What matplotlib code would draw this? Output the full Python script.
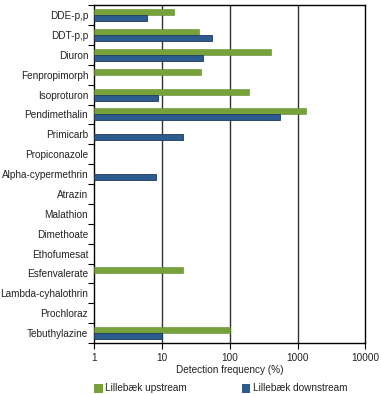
import matplotlib
matplotlib.use("Agg")
import matplotlib.pyplot as plt
from matplotlib.patches import Rectangle
import numpy as np

plt.rcParams['font.family'] = ['Liberation Sans', 'DejaVu Sans']

categories = ["DDE-p,p", "DDT-p,p", "Diuron", "Fenpropimorph", "Isoproturon",
              "Pendimethalin", "Primicarb", "Propiconazole", "Alpha-cypermethrin",
              "Atrazin", "Malathion", "Dimethoate", "Ethofumesat", "Esfenvalerate",
              "Lambda-cyhalothrin", "Prochloraz", "Tebuthylazine"]
upstream = [15, 35, 400, 38, 190, 1330, 0, 0, 0, 0, 0, 0, 0, 20, 0, 0, 100]
downstream = [6, 55, 40, 0, 8.6, 550, 20, 0, 8, 0, 0, 0, 0, 0, 0, 0, 10]
xticks = [1, 10, 100, 1000, 10000]
xticklabels = ["1", "10", "100", "1000", "10000"]
series_labels = ["Lillebæk upstream", "Lillebæk downstream"]
green = "#77a23b"
blue = "#2e5b8e"

W, H = 381, 394
fig = plt.figure(figsize=(W / 100, H / 100), dpi=100)
ax = fig.add_axes([0.248, 0.1294, 0.711, 0.8576])

n = len(categories)
y = np.arange(n)
h = 0.3
up = np.array(upstream, dtype=float)
dn = np.array(downstream, dtype=float)
mu = up > 0
md = dn > 0
ax.barh(y[mu] - h / 2, up[mu] - 1, left=1, height=h, color=green,
        edgecolor="#5f8a2a", linewidth=0.4, zorder=3)
ax.barh(y[md] + h / 2, dn[md] - 1, left=1, height=h, color=blue,
        edgecolor="#1c3a5e", linewidth=0.6, zorder=3)

ax.set_xscale("log")
ax.set_xlim(1, 10000)
ax.set_ylim(n - 0.5, -0.5)
ax.set_xticks(xticks)
ax.set_xticklabels(xticklabels)
ax.xaxis.set_minor_locator(matplotlib.ticker.NullLocator())
ax.set_yticks(y)
ax.set_yticklabels(categories)
ax.set_yticks(np.arange(n + 1) - 0.5, minor=True)
fs = 7.2
ax.tick_params(axis="y", which="major", length=0, labelsize=fs, pad=4.5, labelcolor="#222222")
ax.tick_params(axis="y", which="minor", length=4, width=0.8, direction="out", color="black")
ax.tick_params(axis="x", which="major", length=4, width=0.8, labelsize=fs, labelcolor="#222222",
               color="black")

for v in [10, 100, 1000]:
    ax.axvline(v, color="#333333", linewidth=1.0, zorder=2)
for s in ax.spines.values():
    s.set_linewidth(1.0)
    s.set_color("black")

ax.set_xlabel("Detection frequency (%)", fontsize=fs, labelpad=1, color="#222222")

# legend drawn manually
leg_y = 388
for (x0, tx), col, lab in zip([(93.5, 105), (241.5, 253)], [green, blue], series_labels):
    fig.patches.append(Rectangle((x0 / W, 1 - (leg_y + 4.5) / H), 9 / W, 9 / H,
                                 transform=fig.transFigure, facecolor=col, edgecolor=col,
                                 linewidth=0))
    fig.text(tx / W, 1 - leg_y / H, lab, fontsize=fs, va="center", ha="left",
             color="#222222")

fig.savefig("out.png", dpi=100)
